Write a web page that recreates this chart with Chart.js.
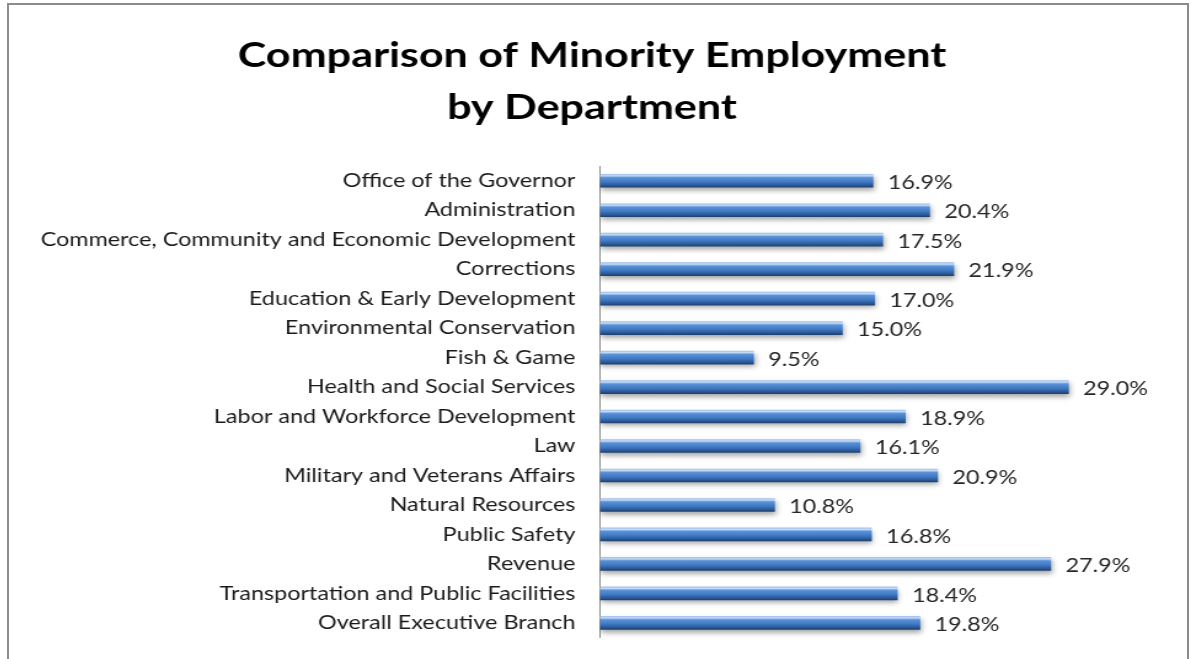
<!DOCTYPE html>
<html>
<head>
<meta charset="utf-8">
<script src="https://cdn.jsdelivr.net/npm/chart.js@4"></script>
<style>
  html, body { margin: 0; padding: 0; background: #fff; overflow: hidden; }
  #wrap { position: absolute; left: 7px; top: 3px; width: 1182px; height: 670px;
          border-left: 2px solid #8c8c8c; border-top: 2px solid #8c8c8c; border-right: 2px solid #8c8c8c;
          box-sizing: border-box; overflow: hidden; }
  /* the original picture is stretched sideways, so stretch the canvas the same way */
  #chart { position: absolute; left: 0; top: 0; transform-origin: 0 0; transform: scaleX(1.23); }
</style>
</head>
<body>
<div id="wrap"><canvas id="chart" width="958" height="664"></canvas></div>
<script>
// departments, top to bottom
const departments = [
    'Office of the Governor',
    'Administration',
    'Commerce, Community and Economic Development',
    'Corrections',
    'Education & Early Development',
    'Environmental Conservation',
    'Fish & Game',
    'Health and Social Services',
    'Labor and Workforce Development',
    'Law',
    'Military and Veterans Affairs',
    'Natural Resources',
    'Public Safety',
    'Revenue',
    'Transportation and Public Facilities',
    'Overall Executive Branch'
];
// percent minority employment
const minorityPct = [16.9, 20.4, 17.5, 21.9, 17.0, 15.0, 9.5, 29.0, 18.9, 16.1, 20.9, 10.8, 16.8, 27.9, 18.4, 19.8];

const titleLines = ['Comparison of Minority Employment', 'by Department'];

const FONT = 'Lato, "Open Sans", sans-serif';

// bar fill: cylinder-ish vertical gradient
function barFill(c) {
    const chart = c.chart;
    const ys = chart.scales && chart.scales.y;
    if (!ys || c.dataIndex === undefined) return '#4f81bd';
    const y = ys.getPixelForValue(c.dataIndex);
    if (!Number.isFinite(y)) return '#4f81bd';
    const h = 6.5;
    const g = chart.ctx.createLinearGradient(0, y - h, 0, y + h);
    g.addColorStop(0, '#a3c2ec');
    g.addColorStop(0.12, '#c6daf5');
    g.addColorStop(0.26, '#5a92d8');
    g.addColorStop(0.6, '#3f78c2');
    g.addColorStop(0.84, '#2b5a98');
    g.addColorStop(1, '#1f4272');
    return g;
}

// soft shadow under bars
const barShadow = {
    id: 'barShadow',
    beforeDatasetDraw(chart) {
        const ctx = chart.ctx;
        ctx.save();
        ctx.shadowColor = 'rgba(0,0,0,0.35)';
        ctx.shadowBlur = 5;
        ctx.shadowOffsetX = 1;
        ctx.shadowOffsetY = 3;
    },
    afterDatasetDraw(chart) {
        chart.ctx.restore();
    }
};

// value labels at bar ends
const valueLabels = {
    id: 'valueLabels',
    afterDatasetsDraw(chart) {
        const ctx = chart.ctx;
        const meta = chart.getDatasetMeta(0);
        ctx.save();
        ctx.font = '19px ' + FONT;
        ctx.fillStyle = '#262626';
        ctx.textAlign = 'left';
        ctx.textBaseline = 'middle';
        meta.data.forEach((bar, i) => {
            ctx.fillText(minorityPct[i].toFixed(1) + '%', bar.x + 12, bar.y + 2);
        });
        ctx.restore();
    }
};

const chart = new Chart(document.getElementById('chart'), {
    type: 'bar',
    data: {
        labels: departments,
        datasets: [{
            data: minorityPct,
            backgroundColor: barFill,
            borderWidth: 0,
            barThickness: 13
        }]
    },
    options: {
        indexAxis: 'y',
        responsive: false,
        animation: false,
        layout: { padding: { top: 0, right: 10, bottom: 10, left: 0 } },
        plugins: {
            legend: { display: false },
            tooltip: { enabled: false },
            title: {
                display: true,
                text: titleLines,
                color: '#000',
                font: { family: FONT, size: 35, weight: 'bold', lineHeight: 1.5 },
                padding: { top: 24, bottom: 32 }
            }
        },
        scales: {
            x: {
                min: 0,
                max: 35.6,
                display: false
            },
            y: {
                afterFit(scale) { scale.width = 480.5; },
                grid: { display: false, drawTicks: false },
                border: { display: true, color: '#8c8c8c', width: 1 },
                ticks: {
                    color: '#1a1a1a',
                    font: { family: FONT, size: 19 },
                    padding: 20
                }
            }
        }
    },
    plugins: [barShadow, valueLabels]
});
</script>
</body>
</html>
